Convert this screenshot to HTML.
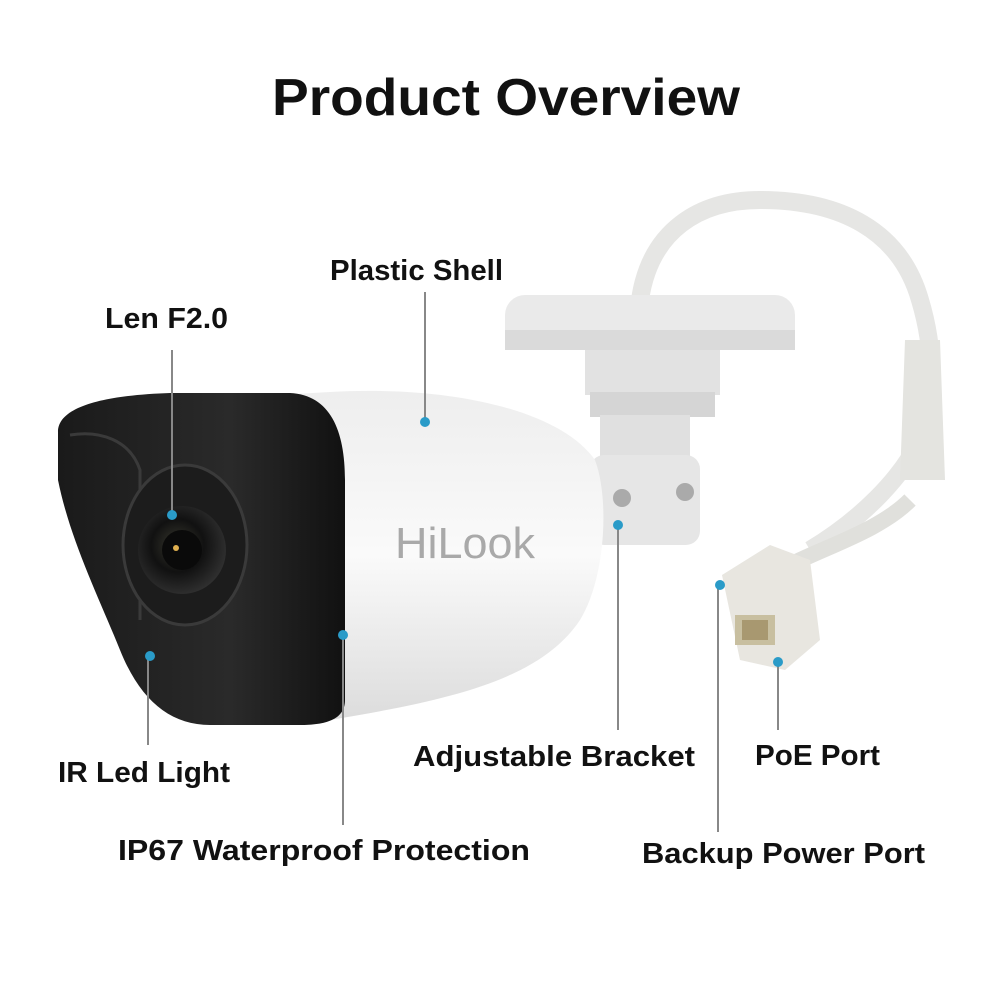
<!DOCTYPE html>
<html><head><meta charset="utf-8"><style>
html,body{margin:0;padding:0;background:#fff;}
svg{display:block;}
text{font-family:"Liberation Sans",sans-serif;font-weight:bold;fill:#111;}
</style></head><body>
<svg width="1000" height="1000" viewBox="0 0 1000 1000" xmlns="http://www.w3.org/2000/svg">
<defs>
<linearGradient id="body" x1="0" y1="0" x2="0" y2="1">
<stop offset="0" stop-color="#eeeeee"/><stop offset="0.5" stop-color="#fafafa"/><stop offset="1" stop-color="#dcdcdc"/>
</linearGradient>
<linearGradient id="hood" x1="0" y1="0" x2="1" y2="0">
<stop offset="0" stop-color="#1a1a1a"/><stop offset="0.6" stop-color="#2a2a2a"/><stop offset="1" stop-color="#111"/>
</linearGradient>
<radialGradient id="lens" cx="0.45" cy="0.45" r="0.6">
<stop offset="0" stop-color="#3a3a30"/><stop offset="0.5" stop-color="#111"/><stop offset="1" stop-color="#333"/>
</radialGradient>
</defs>
<text x="272" y="115" font-size="52" textLength="468" lengthAdjust="spacingAndGlyphs">Product Overview</text>

<!-- cable -->
<path d="M640 300 C650 230 700 200 760 200 C840 200 900 230 920 300 C935 350 935 400 920 440 C900 480 860 520 810 550" fill="none" stroke="#e6e6e4" stroke-width="18"/>
<path d="M905 340 L940 340 L945 480 L900 480 Z" fill="#e4e4e0"/>
<path d="M910 500 C880 530 830 545 790 565" fill="none" stroke="#e0e0dc" stroke-width="16"/>
<!-- connector -->
<path d="M722 575 L770 545 L810 560 L820 640 L785 670 L740 660 Z" fill="#e8e6e0"/>
<rect x="735" y="615" width="40" height="30" fill="#c8bfa0"/>
<rect x="742" y="620" width="26" height="20" fill="#a89870"/>

<!-- mount -->
<rect x="505" y="295" width="290" height="55" rx="20" fill="#eaeaea"/>
<rect x="505" y="330" width="290" height="20" fill="#dadada"/>
<rect x="585" y="350" width="135" height="45" fill="#e2e2e2"/>
<rect x="590" y="392" width="125" height="25" fill="#d5d5d5"/>
<rect x="600" y="415" width="90" height="45" fill="#e0e0e0"/>
<rect x="590" y="455" width="110" height="90" rx="14" fill="#e6e6e6"/>
<circle cx="622" cy="498" r="9" fill="#aaa"/><circle cx="685" cy="492" r="9" fill="#aaa"/>

<!-- body -->
<path d="M190 400 L330 392 C450 385 560 410 595 460 C610 500 605 580 580 620 C540 680 450 700 330 720 L190 720 Z" fill="url(#body)"/>
<!-- hood -->
<path d="M58 432 C58 405 110 395 170 393 L290 393 C330 395 345 430 345 480 L345 700 C345 720 325 725 300 725 L210 725 C170 725 140 700 120 650 C100 600 70 540 58 480 Z" fill="url(#hood)"/>
<path d="M70 435 C100 430 130 440 140 470 L140 620" fill="none" stroke="#3a3a3a" stroke-width="3"/>
<!-- lens -->
<ellipse cx="185" cy="545" rx="62" ry="80" fill="#1c1c1c" stroke="#3a3a3a" stroke-width="3"/>
<circle cx="182" cy="550" r="44" fill="url(#lens)"/>
<circle cx="182" cy="550" r="20" fill="#0a0a0a"/>
<circle cx="176" cy="548" r="3" fill="#e0b050"/>
<text x="395" y="558" font-size="44" textLength="140" lengthAdjust="spacingAndGlyphs" style="fill:#a9a9a9;font-weight:normal">HiLook</text>

<!-- leader lines -->
<g stroke="#888" stroke-width="2">
<line x1="425" y1="292" x2="425" y2="422"/>
<line x1="172" y1="350" x2="172" y2="515"/>
<line x1="148" y1="655" x2="148" y2="745"/>
<line x1="343" y1="635" x2="343" y2="825"/>
<line x1="618" y1="525" x2="618" y2="730"/>
<line x1="778" y1="660" x2="778" y2="730"/>
<line x1="718" y1="585" x2="718" y2="832"/>
</g>
<g fill="#2a9bc8">
<circle cx="425" cy="422" r="5"/><circle cx="172" cy="515" r="5"/><circle cx="150" cy="656" r="5"/>
<circle cx="343" cy="635" r="5"/><circle cx="618" cy="525" r="5"/><circle cx="778" cy="662" r="5"/><circle cx="720" cy="585" r="5"/>
</g>

<g font-size="29">
<text x="330" y="280" textLength="173" lengthAdjust="spacingAndGlyphs">Plastic Shell</text>
<text x="105" y="328" textLength="123" lengthAdjust="spacingAndGlyphs">Len F2.0</text>
<text x="58" y="782" textLength="172" lengthAdjust="spacingAndGlyphs">IR Led Light</text>
<text x="118" y="860" textLength="412" lengthAdjust="spacingAndGlyphs">IP67 Waterproof Protection</text>
<text x="413" y="766" textLength="282" lengthAdjust="spacingAndGlyphs">Adjustable Bracket</text>
<text x="755" y="765" textLength="125" lengthAdjust="spacingAndGlyphs">PoE Port</text>
<text x="642" y="863" textLength="283" lengthAdjust="spacingAndGlyphs">Backup Power Port</text>
</g>
</svg>
</body></html>
